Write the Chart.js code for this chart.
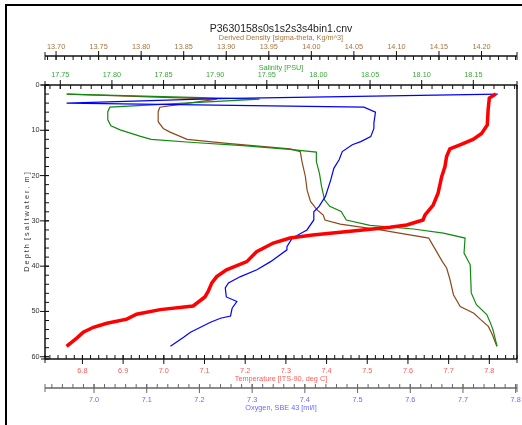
<!DOCTYPE html>
<html>
<head>
<meta charset="utf-8">
<script src="https://cdn.jsdelivr.net/npm/chart.js@4.4.1/dist/chart.umd.min.js"></script>
<style>
  body { margin: 0; background: #fff; }
  canvas { display: block; }
</style>
</head>
<body>
<canvas id="profile" width="522" height="425"></canvas>
<script>
  // depth profile, one pair of arrays per sensor (depth in m, value)
  const tempDepth = [2.0, 2.9, 5.5, 8.8, 10.7, 12.0, 13.2, 14.1, 15.8, 18.0, 20.2, 23.9, 26.5, 28.7, 29.8, 30.9, 31.4, 32.0, 33.1, 33.8, 34.9, 36.8, 39.0, 40.8, 42.3, 43.7, 45.6, 46.8, 48.8, 49.6, 50.6, 51.7, 52.6, 53.5, 54.6, 55.9, 57.7];
  const tempValues = [7.816, 7.800, 7.797, 7.795, 7.781, 7.760, 7.728, 7.703, 7.695, 7.691, 7.683, 7.674, 7.662, 7.642, 7.637, 7.597, 7.556, 7.489, 7.366, 7.310, 7.269, 7.228, 7.204, 7.154, 7.130, 7.118, 7.109, 7.101, 7.072, 6.991, 6.933, 6.909, 6.860, 6.827, 6.802, 6.786, 6.761];

  const oxyDepth = [2.0, 3.0, 4.0, 4.9, 6.0, 8.4, 9.6, 11.4, 12.5, 13.2, 14.7, 16.5, 18.4, 21.0, 24.6, 26.8, 28.0, 29.8, 32.0, 33.8, 35.7, 36.4, 39.0, 40.8, 42.3, 43.7, 44.8, 46.8, 47.8, 49.3, 51.0, 51.5, 52.4, 54.6, 55.7, 57.7];
  const oxyValues = [7.766, 7.234, 6.948, 7.512, 7.534, 7.531, 7.531, 7.525, 7.506, 7.490, 7.471, 7.465, 7.455, 7.449, 7.439, 7.427, 7.417, 7.417, 7.404, 7.376, 7.366, 7.366, 7.335, 7.309, 7.278, 7.255, 7.249, 7.251, 7.271, 7.262, 7.259, 7.240, 7.221, 7.183, 7.170, 7.145];

  const salDepth = [2.0, 3.1, 4.9, 5.9, 7.7, 9.0, 9.9, 11.3, 12.0, 12.7, 13.4, 14.2, 14.8, 16.9, 19.5, 22.4, 25.4, 26.8, 27.9, 29.8, 31.0, 31.8, 32.7, 33.8, 37.1, 39.7, 45.9, 48.5, 50.7, 52.2, 54.0, 57.7];
  const salValues = [17.756, 17.943, 17.798, 17.796, 17.796, 17.799, 17.808, 17.827, 17.838, 17.879, 17.927, 17.972, 17.998, 17.998, 18.001, 18.003, 18.006, 18.011, 18.022, 18.027, 18.050, 18.092, 18.121, 18.142, 18.141, 18.147, 18.148, 18.153, 18.163, 18.166, 18.169, 18.173];

  const densDepth = [2.0, 3.1, 4.9, 5.9, 8.1, 9.6, 10.4, 12.0, 12.9, 14.1, 14.7, 16.9, 20.2, 23.2, 25.7, 27.6, 28.7, 29.8, 30.7, 32.0, 33.8, 36.4, 39.0, 40.4, 43.0, 46.3, 48.9, 50.4, 51.8, 53.3, 54.8, 57.7];
  const densValues = [13.713, 13.889, 13.822, 13.820, 13.820, 13.826, 13.834, 13.854, 13.901, 13.975, 13.987, 13.989, 13.993, 13.995, 13.999, 14.007, 14.014, 14.016, 14.034, 14.081, 14.138, 14.146, 14.154, 14.159, 14.163, 14.167, 14.175, 14.191, 14.199, 14.208, 14.212, 14.218];

  const chartTitle = 'P3630158s0s1s2s3s4bin1.cnv';
  const depthTitle = 'D e p t h  [ s a l t w a t e r ,  m ]';

  const family = "'Liberation Sans', Arial, sans-serif";
  const small = { family: family, size: 7.3, lineHeight: 1 };

  // minor tick steps for the hand drawn axis lines
  const minorSteps = { y: 2, xTemp: 0.02, xOxy: 0.02, xSal: 0.01, xDens: 0.01 };
  const lineColors = { y: '#111', xTemp: '#111', xOxy: '#666', xSal: '#111', xDens: '#111' };

  function toPoints(depths, values) {
    return depths.map((d, i) => ({ x: values[i], y: d }));
  }

  function fixSize(size, horizontal) {
    return function (s) {
      if (horizontal) { s.height = size; s.paddingLeft = 0; s.paddingRight = 0; }
      else { s.width = size; s.paddingTop = 0; s.paddingBottom = 0; }
    };
  }

  const axisLines = {
    id: 'axisLines',
    beforeDatasetsDraw(chart) {
      const ctx = chart.ctx;
      const area = chart.chartArea;
      ctx.save();
      ctx.fillStyle = '#000';
      ctx.fillRect(5, 4, 2, 421);
      ctx.fillRect(5, 4, 517, 2);

      // right side of the plot box
      ctx.strokeStyle = '#111';
      ctx.lineWidth = 1.5;
      ctx.beginPath();
      ctx.moveTo(area.right, area.top);
      ctx.lineTo(area.right, area.bottom);
      ctx.stroke();

      for (const id in minorSteps) {
        const s = chart.scales[id];
        const horiz = s.isHorizontal();
        const pos = s.position === 'left' ? s.right : (s.position === 'top' ? s.bottom : s.top);
        const dir = s.position === 'bottom' ? -1 : 1;

        ctx.strokeStyle = lineColors[id];
        ctx.lineWidth = 1.5;
        ctx.beginPath();
        if (horiz) { ctx.moveTo(s.left, pos); ctx.lineTo(s.right, pos); }
        else { ctx.moveTo(pos, s.top); ctx.lineTo(pos, s.bottom); }
        ctx.stroke();

        ctx.lineWidth = 1;
        const tick = (v, out, inn) => {
          const p = s.getPixelForValue(v);
          ctx.beginPath();
          if (horiz) { ctx.moveTo(p, pos - dir * out); ctx.lineTo(p, pos + dir * inn); }
          else { ctx.moveTo(pos - out, p); ctx.lineTo(pos + inn, p); }
          ctx.stroke();
        };
        const step = minorSteps[id];
        const k0 = Math.ceil(s.min / step - 1e-6);
        const k1 = Math.floor(s.max / step + 1e-6);
        for (let k = k0; k <= k1; k++) tick(k * step, 0, 4);
        s.ticks.forEach(t => tick(t.value, 5, 4));
        tick(s.min, 4, 4);
        tick(s.max, 4, 4);
      }
      ctx.restore();
    }
  };

  const noGrid = { display: false, drawTicks: false };

  const config = {
    type: 'scatter',
    data: {
      datasets: [{
        label: 'Temperature',
        data: toPoints(tempDepth, tempValues),
        xAxisID: 'xTemp',
        borderColor: '#ff0000',
        borderWidth: 3.5
      }, {
        label: 'Oxygen',
        data: toPoints(oxyDepth, oxyValues),
        xAxisID: 'xOxy',
        borderColor: '#0000ff',
        borderWidth: 1.2
      }, {
        label: 'Salinity',
        data: toPoints(salDepth, salValues),
        xAxisID: 'xSal',
        borderColor: '#108a10',
        borderWidth: 1.2
      }, {
        label: 'Density',
        data: toPoints(densDepth, densValues),
        xAxisID: 'xDens',
        borderColor: '#8b4a1c',
        borderWidth: 1.2
      }]
    },
    options: {
      responsive: false,
      animation: false,
      showLine: true,
      elements: {
        point: { radius: 0, hoverRadius: 0 },
        line: { tension: 0, fill: false }
      },
      layout: { padding: { left: 18, right: 5, top: 0, bottom: 12 } },
      plugins: {
        legend: { display: false },
        tooltip: { enabled: false },
        title: {
          display: true,
          fullSize: false,
          text: chartTitle,
          color: '#222',
          font: { family: family, size: 10.5, weight: 'normal', lineHeight: 1 },
          padding: { top: 23.5, bottom: 0 }
        }
      },
      scales: {
        y: {
          type: 'linear',
          position: 'left',
          reverse: true,
          min: 0,
          max: 60.5,
          grid: noGrid,
          border: { display: false },
          ticks: { stepSize: 10, padding: 5.5, color: '#333', font: small, includeBounds: false, autoSkip: false },
          title: { display: true, text: depthTitle, color: '#333', font: small, padding: { top: 5.5, bottom: 0 } },
          afterFit: fixSize(27, false)
        },
        xSal: {
          type: 'linear',
          position: 'top',
          weight: 0,
          min: 17.7352,
          max: 18.1923,
          grid: noGrid,
          border: { display: false },
          ticks: { stepSize: 0.05, padding: 6, color: '#3ca83c', font: small, includeBounds: false, autoSkip: false, maxRotation: 0, callback: v => v.toFixed(2) },
          title: { display: true, text: 'Salinity [PSU]', color: '#3ca83c', font: small, padding: { top: 8.5, bottom: 0 } },
          afterFit: fixSize(29, true)
        },
        xDens: {
          type: 'linear',
          position: 'top',
          weight: 1,
          min: 13.687,
          max: 14.2417,
          grid: noGrid,
          border: { display: false },
          ticks: { stepSize: 0.05, padding: 5.5, color: '#a8763e', font: small, includeBounds: false, autoSkip: false, maxRotation: 0, callback: v => v.toFixed(2) },
          title: { display: true, text: 'Derived Density [sigma-theta, Kg/m^3]', color: '#a8763e', font: small, padding: { top: 0, bottom: 0 } },
          afterFit: fixSize(22, true)
        },
        xTemp: {
          type: 'linear',
          position: 'bottom',
          weight: 0,
          min: 6.708,
          max: 7.868,
          grid: noGrid,
          border: { display: false },
          ticks: { stepSize: 0.1, padding: 8.5, color: '#ff5a5a', font: small, includeBounds: false, autoSkip: false, maxRotation: 0, callback: v => v.toFixed(1) },
          title: { display: true, text: 'Temperature [ITS-90, deg C]', color: '#ff5a5a', font: small, padding: { top: 0, bottom: 5 } },
          afterFit: fixSize(29, true)
        },
        xOxy: {
          type: 'linear',
          position: 'bottom',
          weight: 1,
          min: 6.907,
          max: 7.8025,
          grid: noGrid,
          border: { display: false },
          ticks: { stepSize: 0.1, padding: 8.5, color: '#6a6aff', font: small, includeBounds: false, autoSkip: false, maxRotation: 0, callback: v => v.toFixed(1) },
          title: { display: true, text: 'Oxygen, SBE 43 [ml/l]', color: '#6a6aff', font: small, padding: { top: 0, bottom: 1.2 } },
          afterFit: fixSize(25, true)
        }
      }
    },
    plugins: [axisLines]
  };

  const profileChart = new Chart(document.getElementById('profile'), config);
</script>
</body>
</html>
